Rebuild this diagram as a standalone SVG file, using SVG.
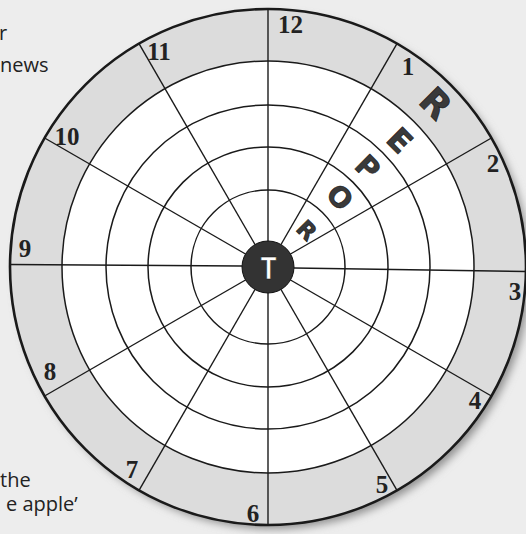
<svg xmlns="http://www.w3.org/2000/svg" width="526" height="534" viewBox="0 0 526 534">
  <style>
    .ring { fill: none; stroke: #1a1a1a; stroke-width: 1.5; }
    .spoke { stroke: #1a1a1a; stroke-width: 1.4; fill: none; }
    .num { font-family: "Liberation Serif", "Times New Roman", serif; font-weight: bold; font-size: 25px; fill: #222; text-anchor: middle; }
    .side { font-family: "Open Sans", "Liberation Sans", sans-serif; font-size: 20px; fill: #222; }
    .let { font-family: "DejaVu Sans", "Liberation Sans", sans-serif; font-weight: bold; fill: #3a3a3a; stroke: #111; stroke-width: 0.6; text-anchor: middle; }
  </style>
  <defs>
    <filter id="shadow" x="-10%" y="-10%" width="120%" height="120%">
      <feGaussianBlur stdDeviation="4"/>
    </filter>
  </defs>

  <rect id="background" x="0" y="0" width="526" height="534" fill="#ededed"/>

  <g id="side-text" class="side">
    <text x="-1" y="40">r</text>
    <text x="0" y="72">news</text>
    <text x="0" y="487">the</text>
    <text x="6" y="511">e apple’</text>
  </g>

  <g id="board">
    <circle cx="273" cy="272" r="257" fill="#909090" filter="url(#shadow)"/>
    <circle cx="268" cy="267" r="258" fill="#dcdcdc"/>
    <circle cx="268" cy="267" r="206" fill="#ffffff"/>
    <circle class="ring" cx="268" cy="267" r="206"/>
    <circle class="ring" cx="268" cy="267" r="162"/>
    <circle class="ring" cx="268" cy="267" r="120"/>
    <circle class="ring" cx="268" cy="267" r="77"/>
    <circle cx="268" cy="267" r="258" fill="none" stroke="#1a1a1a" stroke-width="2.6"/>
  </g>

  <g id="spokes" class="spoke">
    <line x1="268" y1="241" x2="268" y2="9"/>
    <line x1="281" y1="244.5" x2="397" y2="43.6"/>
    <line x1="290.5" y1="254" x2="491.4" y2="138"/>
    <line x1="294" y1="268" x2="526" y2="271.5"/>
    <line x1="290.5" y1="280" x2="491.4" y2="396"/>
    <line x1="281" y1="289.5" x2="397" y2="490.4"/>
    <line x1="268" y1="293" x2="268" y2="525"/>
    <line x1="255" y1="289.5" x2="139" y2="490.4"/>
    <line x1="245.5" y1="280" x2="44.6" y2="396"/>
    <line x1="242" y1="266" x2="10" y2="264.5"/>
    <line x1="245.5" y1="254" x2="44.6" y2="138"/>
    <line x1="255" y1="244.5" x2="139" y2="43.6"/>
  </g>

  <g id="numbers" class="num">
    <text x="290.5" y="33">12</text>
    <text x="408" y="75">1</text>
    <text x="493" y="172">2</text>
    <text x="515" y="300">3</text>
    <text x="475" y="409">4</text>
    <text x="382" y="493">5</text>
    <text x="253" y="522">6</text>
    <text x="132" y="478">7</text>
    <text x="50" y="380">8</text>
    <text x="25" y="257">9</text>
    <text x="67" y="145">10</text>
    <text x="159" y="60">11</text>
  </g>

  <g id="report-letters" class="let">
    <g transform="translate(436 103) rotate(45)"><text x="0" y="13" font-size="36">R</text></g>
    <g transform="translate(400 140) rotate(45)"><text x="0" y="11.5" font-size="31">E</text></g>
    <g transform="translate(368 167) rotate(45)"><text x="0" y="10.5" font-size="29">P</text></g>
    <g transform="translate(340 197) rotate(45)"><text x="0" y="10" font-size="28">O</text></g>
    <g transform="translate(307 230) rotate(45)"><text x="0" y="8.5" font-size="23">R</text></g>
  </g>

  <g id="center">
    <circle cx="268" cy="267" r="26" fill="#333333" stroke="#111" stroke-width="1"/>
    <g transform="translate(268.5 279) scale(0.8 1)">
      <text x="0" y="0" font-family="Liberation Sans, Arial, sans-serif" font-weight="bold" font-size="32" fill="#ffffff" stroke="#111" stroke-width="0.5" text-anchor="middle">T</text>
    </g>
  </g>
</svg>
